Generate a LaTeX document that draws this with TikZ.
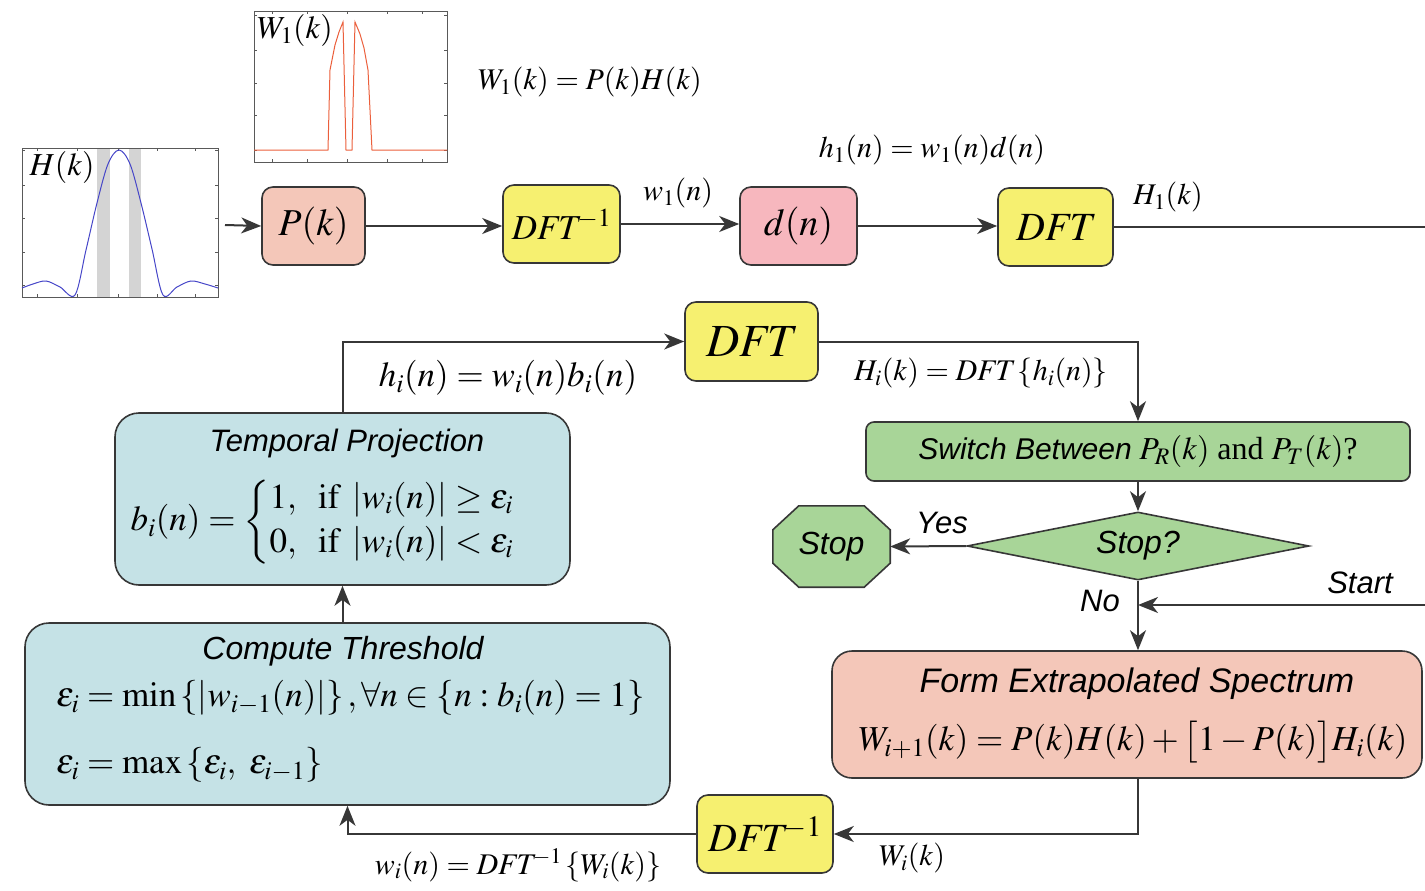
\documentclass[tikz,border=0pt]{standalone}
\usepackage{amsmath}
\usepackage{mathptmx}
\usepackage{fontspec}
\setmainfont{Liberation Serif}
\setsansfont{Liberation Sans}
\usetikzlibrary{arrows.meta,calc,shapes.geometric}
\definecolor{lc}{RGB}{55,55,55}
\definecolor{salmon}{RGB}{244,199,185}
\definecolor{yel}{RGB}{246,240,112}
\definecolor{pinkb}{RGB}{247,183,190}
\definecolor{grn}{RGB}{168,213,152}
\definecolor{lblue}{RGB}{197,226,230}
\definecolor{bandgray}{RGB}{212,212,212}
\definecolor{cblue}{RGB}{70,70,200}
\definecolor{cred}{RGB}{235,95,60}
\newcommand\fsz[1]{\fontsize{#1}{#1}\selectfont}
\newcommand\dft{\mathit{DFT}}
\tikzset{
  box/.style={draw=lc, line width=1.6pt, rounded corners=11pt, inner sep=0pt, align=center},
  arr/.style={draw=lc, line width=2pt, -{Stealth[length=20pt,width=16pt,inset=6pt]}},
  ln/.style={draw=lc, line width=2pt},
  lbl/.style={inner sep=0pt, font=\fsz{31}\sffamily\itshape},
  mlbl/.style={inner sep=0pt, font=\fsz{30}},
  ttl/.style={inner sep=0pt, font=\fsz{32}\sffamily\itshape},
  frame/.style={draw=black!65, line width=0.7pt},
  tick/.style={draw=black!65, line width=0.5pt},
}
\begin{document}
\begin{tikzpicture}[x=1pt,y=-1pt]
\useasboundingbox (0,0) rectangle (1425,891);
% ---------- plot H(k)
\fill[bandgray] (97,148) rectangle (110,297);
\fill[bandgray] (129,148) rectangle (141,297);
\draw[frame] (22,148) rectangle (218,297);
\foreach \t in {37,77,118,157,195} {\draw[tick] (\t,297) -- (\t,294); \draw[tick] (\t,148) -- (\t,151);}
\foreach \t in {150,185,218,252,285} {\draw[tick] (22,\t) -- (25,\t); \draw[tick] (218,\t) -- (215,\t);}
\draw[cblue, line width=1pt] plot[smooth, tension=0.55] coordinates {(22,288) (33,284) (46,281) (60,287) (75,295) (86,250) (97,203) (108,164) (119,150) (130,164) (141,203) (152,249) (163,295) (177,287) (191,281) (205,284) (218,288)};
\node[mlbl, font=\fsz{32}] (hklab) at (62,167) {$H(k)$};
\coordinate (hout) at (225,225);
% ---------- plot W1(k)
\draw[frame] (254,11) rectangle (447,162);
\foreach \t in {272,307,347,387,422} {\draw[tick] (\t,162) -- (\t,159); \draw[tick] (\t,11) -- (\t,14);}
\foreach \t in {15,50,83,115,150} {\draw[tick] (254,\t) -- (257,\t); \draw[tick] (447,\t) -- (444,\t);}
\draw[cred, line width=1pt] (254,150) -- (328,150) -- (330,70) -- (335,45) -- (339,32) -- (343,22) -- (346,150) -- (352,150) -- (355,22) -- (360,34) -- (364,48) -- (368,70) -- (372,150) -- (447,150);
\node[mlbl, font=\fsz{32}] (wklab) at (295,31) {$W_1(k)$};
% ---------- top row
\node[mlbl] (eqW1) at (590,82) {$W_1(k)=P(k)H(k)$};
\node[box, fill=salmon, minimum width=103pt, minimum height=78pt, font=\fsz{38}] (Pk) at (313.5,226) {$P(k)$};
\node[box, fill=yel, minimum width=117pt, minimum height=78pt, font=\fsz{35}] (IDFT1) at (561.5,224) {$\dft^{\!-1}$};
\node[box, fill=pinkb, minimum width=117pt, minimum height=78pt, font=\fsz{38}] (dn) at (798.5,226) {$d(n)$};
\node[box, fill=yel, minimum width=115pt, minimum height=78pt, font=\fsz{40}] (DFT1) at (1055.5,227) {$\dft$};
\node[mlbl] (w1lab) at (678,193) {$w_1(n)$};
\node[mlbl] (eqh1) at (932,150) {$h_1(n)=w_1(n)d(n)$};
\node[mlbl] (H1lab) at (1168,197) {$H_1(k)$};
\coordinate (topend) at (1425,227);
\draw[arr] (hout) -- (Pk.west);
\draw[arr] (Pk.east) -- (Pk.east -| IDFT1.west);
\draw[arr] (IDFT1.east) -- (IDFT1.east -| dn.west);
\draw[arr] (dn.east) -- (dn.east -| DFT1.west);
\draw[ln] (DFT1.east) -- (topend);
% ---------- loop
\node[box, fill=yel, minimum width=133pt, minimum height=79pt, font=\fsz{46}] (DFTm) at (751.5,341.5) {$\dft$};
\node[box, fill=grn, minimum width=544pt, minimum height=59pt, rounded corners=8pt] (Switch) at (1138,451.5) {{\fsz{30}\sffamily\itshape Switch Between}\ \ \ {\fsz{32}$P_R(k)$ \textnormal{and} $P_T(k)$\textnormal{?}}};
\node[draw=lc, line width=1.6pt, fill=grn, diamond, aspect=5.03, minimum width=342pt, minimum height=68pt, inner sep=0pt, font=\fsz{32}\sffamily\itshape] (Dia) at (1138,546) {Stop?};
\node[inner sep=0pt, minimum width=117pt, minimum height=81pt] (Stop) at (831.5,546.5) {};
\draw[draw=lc, line width=1.6pt, fill=grn] ($(Stop.north west)+(26,0)$) -- ($(Stop.north east)+(-26,0)$) -- ($(Stop.north east)+(0,24)$) -- ($(Stop.south east)+(0,-24)$) -- ($(Stop.south east)+(-26,0)$) -- ($(Stop.south west)+(26,0)$) -- ($(Stop.south west)+(0,-24)$) -- ($(Stop.north west)+(0,24)$) -- cycle;
\node[inner sep=0pt, font=\fsz{32}\sffamily\itshape] (StopT) at (Stop.center) {Stop};
\node[box, fill=salmon, minimum width=590pt, minimum height=127pt, rounded corners=20pt] (Form) at (1127,714.5) {};
\node[ttl, font=\fsz{34}\sffamily\itshape] (FormT) at (1137,684) {Form Extrapolated Spectrum};
\node[inner sep=0pt, font=\fsz{35}] (FormE) at (1133,742) {$W_{i+1}(k)=P(k)H(k)+\bigl[1-P(k)\bigr]H_i(k)$};
\node[box, fill=yel, minimum width=136pt, minimum height=78pt, font=\fsz{40}] (IDFTb) at (765,834) {$\dft^{\!-1}$};
\node[box, fill=lblue, minimum width=645pt, minimum height=182pt, rounded corners=24pt] (Comp) at (347.5,714) {};
\node[ttl] (CompT) at (343,651) {Compute Threshold};
\node[inner sep=0pt, anchor=west, font=\fsz{35}] (CompE1) at (56,698) {$\varepsilon_i=\min\left\{\left|w_{i-1}(n)\right|\right\},\forall n\in\left\{n:b_i(n)=1\right\}$};
\node[inner sep=0pt, anchor=west, font=\fsz{35}] (CompE2) at (56,765) {$\varepsilon_i=\max\left\{\varepsilon_i,\ \varepsilon_{i-1}\right\}$};
\node[box, fill=lblue, minimum width=455pt, minimum height=172pt, rounded corners=24pt] (Temp) at (342.5,499) {};
\node[ttl, font=\fsz{31}\sffamily\itshape] (TempT) at (347,443) {Temporal Projection};
\node[inner sep=0pt, font=\fsz{35}] (TempE) at (340,522) {$b_i(n)=\begin{cases}1,\ \ \mathrm{if}\ \left|w_i(n)\right|\geq\varepsilon_i\\[2pt] 0,\ \ \mathrm{if}\ \left|w_i(n)\right|<\varepsilon_i\end{cases}$};
% labels
\node[inner sep=0pt, font=\fsz{35}] (hilab) at (508,378) {$h_i(n)=w_i(n)b_i(n)$};
\node[mlbl] (Hilab) at (981,373) {$H_i(k)=\dft\left\{h_i(n)\right\}$};
\node[lbl] (yes) at (942,523) {Yes};
\node[lbl] (no) at (1100,601) {No};
\node[lbl] (start) at (1360,583) {Start};
\node[mlbl] (Wilab) at (912,858) {$W_i(k)$};
\node[mlbl] (wilab) at (518,865) {$w_i(n)=\dft^{\!-1}\left\{W_i(k)\right\}$};
\coordinate (startpt) at (1425,605);
% connectors
\draw[arr] (Temp.north) |- (DFTm.west);
\draw[arr] (DFTm.east) -| (Switch.north);
\draw[arr] (Switch.south) -- (Dia.north);
\draw[arr] (Dia.west) -- (Stop.east);
\draw[arr] (Dia.south) -- (Dia.south |- Form.north);
\draw[arr] (startpt) -- (startpt -| Dia.south);
\draw[arr] (Dia.south |- Form.south) |- (IDFTb.east);
\draw[arr] (IDFTb.west) -| (Comp.south);
\draw[arr] (Temp.south |- Comp.north) -- (Temp.south);
\end{tikzpicture}
\end{document}
